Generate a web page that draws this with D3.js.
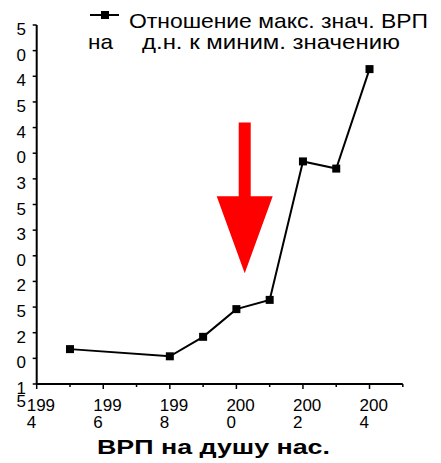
<!DOCTYPE html>
<html><head><meta charset="utf-8">
<script src="https://cdn.jsdelivr.net/npm/d3@7"></script>
<style>body{margin:0;background:#fff}svg{display:block}text{font-family:"Liberation Sans",Arial,sans-serif}</style>
</head><body>
<svg id="c" width="441" height="463"></svg>
<script>
const years = [1995, 1998, 1999, 2000, 2001, 2002, 2003, 2004];
const ratio = [18.4, 17.7, 19.6, 22.3, 23.2, 36.7, 36.0, 45.7];
const yTickValues = [50, 47.5, 45, 42.5, 40, 37.5, 35, 32.5, 30, 27.5, 25, 22.5, 20, 17.5, 15];
const yTickLabels = ["5","0","4","5","4","0","3","5","3","0","2","5","2","0","1","5"];
const xMajor = [1994, 1996, 1998, 2000, 2002, 2004];
const xMinor = [1995, 1997, 1999, 2001, 2003, 2005];
const xTickLine1 = ["199","199","199","200","200","200"];
const xTickLine2 = ["4","6","8","0","2","4"];
const legendLine1 = "Отношение макс. знач. ВРП";
const legendLine2a = "на";
const legendLine2b = "д.н. к миним. значению";
const xTitle = "ВРП на душу нас.";
const arrow = {x: 2000.25, top: 40.5, headBase: 33.3, tip: 25.8};

const svg = d3.select("#c");
const x = d3.scaleLinear().domain([1994, 2005]).range([36.7, 402.8]);
const y = d3.scaleLinear().domain([15, 50]).range([384, 25]);

// y axis
svg.append("line").attr("x1", x(1994)).attr("x2", x(1994)).attr("y1", y(50)).attr("y2", y(15))
  .attr("stroke", "#000").attr("stroke-width", 2);
svg.selectAll(".yt").data(yTickValues).enter().append("line")
  .attr("x1", x(1994) - 4).attr("x2", x(1994)).attr("y1", d => y(d)).attr("y2", d => y(d))
  .attr("stroke", "#000").attr("stroke-width", 1.5);
svg.selectAll(".yl").data(yTickLabels).enter().append("text")
  .attr("x", 26).attr("text-anchor", "end")
  .attr("y", (d, i) => i < yTickValues.length ? y(yTickValues[i]) + 10 : y(15) + 23)
  .attr("font-size", 17).text(d => d);

// x axis
svg.append("line").attr("x1", x(1994)).attr("x2", x(2005)).attr("y1", y(15)).attr("y2", y(15))
  .attr("stroke", "#000").attr("stroke-width", 2);
svg.selectAll(".xM").data(xMajor).enter().append("line")
  .attr("x1", d => x(d)).attr("x2", d => x(d)).attr("y1", y(15)).attr("y2", y(15) + 5)
  .attr("stroke", "#000").attr("stroke-width", 1.5);
svg.selectAll(".xm").data(xMinor).enter().append("line")
  .attr("x1", d => x(d)).attr("x2", d => x(d)).attr("y1", y(15)).attr("y2", y(15) + 3)
  .attr("stroke", "#000").attr("stroke-width", 1.5);
svg.selectAll(".xl1").data(xMajor).enter().append("text")
  .attr("x", d => x(d) - 10).attr("y", y(15) + 27).attr("font-size", 17)
  .text((d, i) => xTickLine1[i]);
svg.selectAll(".xl2").data(xMajor).enter().append("text")
  .attr("x", d => x(d) - 10).attr("y", y(15) + 44).attr("font-size", 17)
  .text((d, i) => xTickLine2[i]);

svg.append("text").attr("x", 97).attr("y", 454)
  .attr("font-size", 21).attr("font-weight", "bold")
  .attr("textLength", 233).attr("lengthAdjust", "spacingAndGlyphs").text(xTitle);

// arrow
const ax = x(arrow.x);
svg.append("path").attr("fill", "#ff0000").attr("d", [
  [ax - 6, y(arrow.top)], [ax + 6, y(arrow.top)], [ax + 6, y(arrow.headBase)],
  [ax + 28, y(arrow.headBase)], [ax, y(arrow.tip)], [ax - 28, y(arrow.headBase)],
  [ax - 6, y(arrow.headBase)]
].map((p, i) => (i ? "L" : "M") + p[0] + "," + p[1]).join("") + "Z");

// line
const pts = years.map((d, i) => [d, ratio[i]]);
svg.append("path").datum(pts).attr("fill", "none").attr("stroke", "#000").attr("stroke-width", 2)
  .attr("d", d3.line().x(d => x(d[0])).y(d => y(d[1])));
svg.selectAll(".pt").data(pts).enter().append("rect")
  .attr("x", d => x(d[0]) - 4).attr("y", d => y(d[1]) - 4).attr("width", 8).attr("height", 8)
  .attr("fill", "#000");

// legend
svg.append("line").attr("x1", 90).attr("x2", 119).attr("y1", 15).attr("y2", 15)
  .attr("stroke", "#000").attr("stroke-width", 2);
svg.append("rect").attr("x", 101).attr("y", 11).attr("width", 8).attr("height", 8).attr("fill", "#000");
svg.append("text").attr("x", 129).attr("y", 28).attr("font-size", 21)
  .attr("textLength", 299).attr("lengthAdjust", "spacingAndGlyphs").text(legendLine1);
svg.append("text").attr("x", 88).attr("y", 49).attr("font-size", 21)
  .attr("textLength", 25).attr("lengthAdjust", "spacingAndGlyphs").text(legendLine2a);
svg.append("text").attr("x", 142).attr("y", 49).attr("font-size", 21)
  .attr("textLength", 258).attr("lengthAdjust", "spacingAndGlyphs").text(legendLine2b);
</script>
</body></html>
